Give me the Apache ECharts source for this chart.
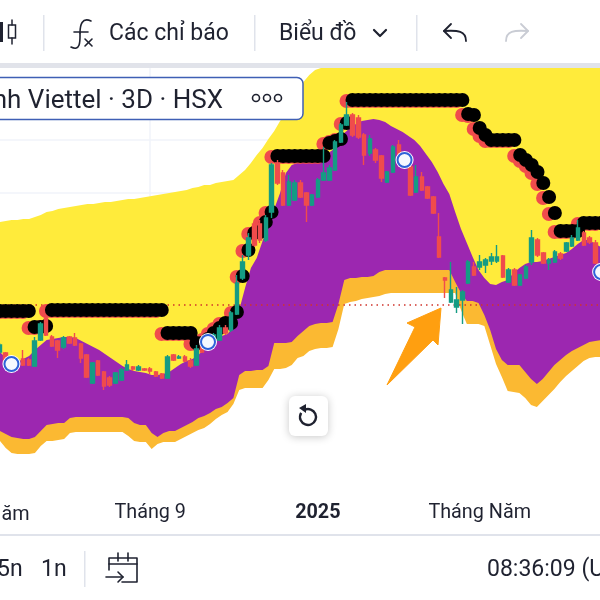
<!DOCTYPE html>
<html>
<head>
<meta charset="utf-8">
<title>Viettel 3D</title>
<style>
	html, body { margin: 0; padding: 0; background: #fff; }
	#chart { width: 600px; height: 600px; }
</style>
<script src="https://cdn.jsdelivr.net/npm/echarts@6/dist/echarts.min.js"></script>
</head>
<body>
<div id="chart"></div>
<script>
// all levels are in chart units, axis runs 0-467
var yellowTop = [313,314,315,315,316,316,318,320,323,324,
	326,327,328,329,330,331,331,332,333,333,
	334,335,336,336,337,338,339,340,341,342,
	343,344,345,347,348,350,350,352,353,354,
	355,360,365,372,380,387,396,404,414,421,
	432,443,453,460,465,467,467,467,467,467,
	467,467,467,467,467,467,467,467,467,467,
	467,467,467,467,467,467,467,467,467,467,
	467,467,467,467,467,467,467,467,467,467,
	467,467,467,467,467,467,467,467,467,467,
	467,467,467,467];
var purpleTop = [183,177,174,173,176,179,185,190,195,196,
	197,198,198,197,194,191,188,185,181,177,
	173,169,166,164,163,162,160,160,161,163,
	167,171,174,176,180,186,191,195,199,201,
	208,225,247,267,277,294,310,326,342,362,
	370,372,373,375,377,379,381,385,394,402,
	407,411,414,415,416,415,413,409,406,403,
	399,395,389,381,373,363,351,341,323,306,
	292,278,265,257,251,250,253,255,262,267,
	271,273,273,274,276,278,280,282,286,291,
	295,295,291,288];
var purpleBottom = [104,101,98,97,96,96,98,104,110,111,
	112,112,117,118,118,118,118,118,118,118,
	118,118,117,112,110,110,102,98,102,104,
	104,107,110,113,117,119,122,126,128,132,
	137,160,164,164,165,165,169,192,192,192,
	193,199,204,209,211,212,212,213,231,255,
	257,257,258,258,259,263,265,265,265,265,
	265,265,265,265,265,265,265,265,253,242,
	234,234,232,220,205,186,175,170,170,170,
	163,156,151,156,163,170,175,180,184,187,
	190,193,194,195];
var orangeBottom = [94,87,82,81,81,81,82,89,94,94,
	95,96,102,103,103,103,103,103,103,103,
	103,103,99,94,93,93,86,91,93,93,
	93,96,99,102,105,107,111,116,120,123,
	131,145,147,147,147,147,155,166,166,167,
	170,177,179,184,186,187,187,188,206,231,
	233,234,236,237,238,239,241,242,242,242,
	242,242,242,242,242,242,242,242,242,225,
	211,211,211,209,190,171,158,144,143,142,
	137,130,128,134,140,146,153,159,164,169,
	174,177,178,178];
// [open, close, low, high]
var candles = [
	[183,190,181,192],[182,173,170,183],[177,174,172,178],[173,175,171,176],[176,170,169,185],
	[175,170,169,177],[169,194,168,198],[195,211,194,213],[217,200,199,220],[198,189,188,200],
	[194,185,177,195],[188,197,186,199],[198,192,191,199],[197,190,189,202],[191,177,172,192],
	[180,158,157,181],[152,172,151,173],[174,160,159,175],[163,149,145,164],[157,150,148,159],
	[152,162,151,163],[155,165,154,167],[165,170,164,175],[168,166,164,169],[165,168,164,170],
	[166,165,164,167],[166,164,161,168],[163,159,158,164],[161,157,156,162],[157,178,156,180],
	[180,175,174,181],[177,178,176,180],[178,174,173,180],[174,169,167,177],[170,186,169,190],
	[188,183,182,189],[192,196,190,198],[193,200,192,202],[195,207,194,210],[207,202,200,210],
	[205,222,203,224],[221,252,220,260],[257,273,255,280],[280,297,275,302],[311,290,288,313],
	[311,295,292,315],[295,317,293,320],[323,370,317,372],[372,352,350,375],[362,330,329,365],
	[330,353,329,360],[335,352,334,355],[352,338,337,355],[342,330,313,343],[330,340,329,341],
	[338,355,337,357],[355,362,354,388],[355,367,354,370],[365,393,364,395],[393,410,392,412],
	[410,420,409,433],[420,400,398,422],[417,398,396,420],[400,380,370,402],[382,396,379,400],
	[385,375,372,387],[379,357,353,380],[353,363,352,364],[363,388,362,390],[390,380,372,395],
	[380,370,366,382],[368,340,339,370],[343,358,342,370],[358,345,344,363],[348,337,336,349],
	[338,322,321,339],[298,278,277,322],[257,255,237,258],[233,245,232,273],[228,235,222,248],
	[235,243,211,245],[252,273,251,275],[268,260,259,273],[268,273,265,280],[270,275,262,277],
	[274,278,270,282],[274,278,272,290],[279,258,257,280],[253,265,252,267],[265,250,249,267],
	[250,260,249,261],[257,268,256,270],[273,297,270,305],[295,280,278,297],[282,272,271,283],
	[272,275,265,277],[273,283,272,285],[281,277,275,283],[284,292,283,293],[289,297,288,300],
	[295,307,294,315],[302,290,289,304],[297,293,291,299],[292,272,271,295]
];
var stopLevels = [224,224,224,224,224,224,208,208,209,225,
	225,225,225,225,225,225,225,225,225,225,
	225,225,225,225,225,225,225,225,225,202,
	202,202,202,202,192,192,196,202,207,212,
	212,223,259,285,302,303,313,323,379,379,
	379,379,379,379,379,379,379,392,394,396,
	412,435,435,435,435,435,435,435,435,435,
	435,435,435,435,435,435,435,435,435,435,
	435,421,420,407,400,395,395,395,395,395,
	380,375,370,363,352,338,322,304,304,304,
	304,312,312,312,312];
var signalIndex = [2,36,70,104];
var signalLevel = [171,193,375,263];
var currentPrice = 230;
var gridLevels = [342,395];
var gridSession = 26;
var tickIndex = [26,55,83];
var tickNames = ['Tháng 9','2025','Tháng Năm'];

var RED = '#f04c4c', TEAL = '#159c84', INK = '#1f2230', FONT = 'Roboto';

var sessions = [], bandSessions = [];
for (var i = 0; i < stopLevels.length; i++) { sessions.push(String(i)); }
for (var i = 0; i < yellowTop.length; i++) { bandSessions.push(String(i)); }

function band(name, values, color, z) {
	return {
		name: name, type: 'line', xAxisIndex: 1, data: values, z: z,
		symbol: 'none', silent: true, animation: false,
		lineStyle: { width: 0 },
		areaStyle: { color: color, opacity: 1, origin: 'start' }
	};
}
function dots(name, color, offset, z) {
	return {
		name: name, type: 'scatter', data: stopLevels, z: z, silent: true,
		symbolSize: 14, symbolOffset: offset,
		itemStyle: { color: color, opacity: 1 }
	};
}
function text(str, x, y, size, color, align) {
	return {
		type: 'text', z: 60, silent: true, x: x, y: y,
		style: { text: str, fontFamily: FONT, fontSize: size, fill: color, textAlign: align || 'left', textVerticalAlign: 'middle' }
	};
}
function line(points, color, width) {
	return {
		type: 'polyline', z: 60, silent: true, shape: { points: points },
		style: { stroke: color, lineWidth: width || 2, fill: null, lineCap: 'round', lineJoin: 'round' }
	};
}
function curve(x1, y1, cx1, cy1, cx2, cy2, x2, y2, color, width) {
	return {
		type: 'bezierCurve', z: 60, silent: true,
		shape: { x1: x1, y1: y1, cpx1: cx1, cpy1: cy1, cpx2: cx2, cpy2: cy2, x2: x2, y2: y2 },
		style: { stroke: color, lineWidth: width || 2, fill: null, lineCap: 'round' }
	};
}
function box(x, y, w, h, fill, r) {
	return { type: 'rect', z: 59, silent: true, shape: { x: x, y: y, width: w, height: h, r: r || 0 }, style: { fill: fill } };
}

var chrome = [
	// top toolbar
	box(0, 0, 600, 63, '#fff'),
	box(0, 63, 600, 5, '#e1e3ea'),
	box(43, 15, 1.5, 36, '#e0e3eb'), box(254, 15, 1.5, 36, '#e0e3eb'), box(416, 15, 1.5, 36, '#e0e3eb'),
	box(0, 22, 3, 20, INK),
	line([[12, 20], [12, 25]], INK, 1.5), line([[12, 38], [12, 44]], INK, 1.5),
	{ type: 'rect', z: 60, silent: true, shape: { x: 8.5, y: 25, width: 7, height: 13 }, style: { fill: null, stroke: INK, lineWidth: 1.5 } },
	curve(91, 21, 82, 17, 80, 25, 80, 33, INK, 1.6),
	curve(80, 33, 80, 40, 81, 52, 71, 47, INK, 1.6),
	line([[74, 32], [88, 32]], INK, 1.6),
	line([[85, 39], [92, 46]], INK, 1.6), line([[92, 39], [85, 46]], INK, 1.6),
	text('Các chỉ báo', 109, 34, 23, INK),
	text('Biểu đồ', 279, 34, 23, INK),
	line([[374, 30], [380, 36], [386, 30]], INK, 2.2),
	line([[451, 24], [444, 31], [451, 38]], INK, 1.8),
	curve(444, 31, 458, 30, 466, 31, 466, 41, INK, 1.8),
	line([[521, 24], [528, 31], [521, 38]], '#c9ccd4', 1.8),
	curve(528, 31, 514, 30, 506, 31, 506, 41, '#c9ccd4', 1.8),
	// clipped label on the left of the time axis
	text('Tháng Năm', -73, 515, 19.8, INK),
	// legend tag
	{ type: 'rect', z: 59, silent: true, shape: { x: -12, y: 77.5, width: 315, height: 42, r: 6 }, style: { fill: '#fff', stroke: '#3f5fb5', lineWidth: 1.5 } },
	text('nh Viettel · 3D · HSX', 223, 101, 26, INK, 'right'),
	{ type: 'circle', z: 60, silent: true, shape: { cx: 256, cy: 98, r: 3.5 }, style: { fill: null, stroke: INK, lineWidth: 1.6 } },
	{ type: 'circle', z: 60, silent: true, shape: { cx: 267, cy: 98, r: 3.5 }, style: { fill: null, stroke: INK, lineWidth: 1.6 } },
	{ type: 'circle', z: 60, silent: true, shape: { cx: 278, cy: 98, r: 3.5 }, style: { fill: null, stroke: INK, lineWidth: 1.6 } },
	// hand drawn arrow
	{
		type: 'polygon', z: 58, silent: true,
		shape: { points: [[441, 308], [407, 323], [415, 327], [387, 385], [433, 340], [438, 345]] },
		style: { fill: '#ff9f10', stroke: '#ff9f10', lineWidth: 1, lineJoin: 'round' }
	},
	// reset button
	{
		type: 'rect', z: 59, silent: true, shape: { x: 289, y: 396, width: 39, height: 40, r: 6 },
		style: { fill: '#fff', shadowBlur: 8, shadowColor: 'rgba(0,0,0,0.22)', shadowOffsetY: 1 }
	},
	{
		type: 'arc', z: 60, silent: true, shape: { cx: 308, cy: 417, r: 8, startAngle: -2.0, endAngle: -2.6, clockwise: true },
		style: { stroke: INK, lineWidth: 2.4, fill: null }
	},
	{ type: 'polygon', z: 60, silent: true, shape: { points: [[306, 404], [306, 413], [299, 408]] }, style: { fill: INK } },
	// bottom bar
	box(0, 536, 600, 64, '#fff'),
	text('5n', -3, 570, 23, INK),
	text('1n', 41, 570, 23, INK),
	box(84, 551, 1.5, 36, '#e0e3eb'),
	line([[109, 570], [109, 558], [137, 558], [137, 582], [122, 582]], INK, 1.6),
	line([[109, 564], [137, 564]], INK, 1.6),
	line([[118, 553], [118, 561]], INK, 1.6), line([[128, 553], [128, 561]], INK, 1.6),
	line([[106, 577], [123, 577]], INK, 1.6), line([[118, 572], [123, 577], [118, 582]], INK, 1.6),
	text('08:36:09 (UTC+7)', 487, 570, 23, INK)
];

var myChart = echarts.init(document.getElementById('chart'), null, { renderer: 'canvas' });
myChart.setOption({
	animation: false,
	backgroundColor: '#fff',
	textStyle: { fontFamily: FONT },
	grid: { left: -3, top: 68, width: 607, height: 467, containLabel: false, outerBoundsMode: 'none' },
	xAxis: [{
		type: 'category', data: sessions, boundaryGap: true, z: 20,
		axisLine: { show: true, onZero: false, lineStyle: { color: '#e0e3eb', width: 2 } },
		axisTick: { show: false },
		splitLine: { show: false },
		axisLabel: {
			inside: true, margin: 22, color: INK, fontFamily: FONT, fontSize: 19.8, verticalAlign: 'middle',
			interval: function (index) { return tickIndex.indexOf(index) >= 0; },
			formatter: function (value, index) {
				var name = tickNames[tickIndex.indexOf(index)];
				return name === '2025' ? '{bold|' + name + '}' : name;
			},
			rich: { bold: { fontFamily: FONT, fontSize: 19.8, fontWeight: 'bold', color: INK } }
		}
	}, {
		// the bands were read on their own, slightly wider step
		type: 'category', data: bandSessions, boundaryGap: true, show: false
	}],
	yAxis: { type: 'value', min: 0, max: 467, show: false, splitLine: { show: false } },
	series: [
		{
			name: 'grid', type: 'line', data: [], z: 1, silent: true, symbol: 'none',
			markLine: {
				z: 1, silent: true, symbol: 'none', label: { show: false }, animation: false,
				lineStyle: { color: '#f0f3fa', width: 1.5, type: 'solid' },
				data: gridLevels.map(function (v) { return { yAxis: v }; }).concat([{ xAxis: gridSession }])
			}
		},
		band('yellow', yellowTop, '#ffeb3b', 2),
		band('purple', purpleTop, '#9c27b0', 3),
		band('orange', purpleBottom, '#fbb932', 4),
		band('white', orangeBottom, '#ffffff', 5),
		{
			name: 'price', type: 'line', data: [], z: 6, silent: true, symbol: 'none',
			markLine: {
				z: 6, silent: true, symbol: 'none', label: { show: false }, animation: false,
				lineStyle: { color: '#d0342c', width: 1.5, type: [1.5, 4] },
				data: [{ yAxis: currentPrice }]
			}
		},
		dots('stop shadow', RED, [-6, 1], 7),
		dots('stop', '#000000', [0, 0], 8),
		{
			name: 'candles', type: 'candlestick', data: candles, z: 9, silent: true, barWidth: 4,
			itemStyle: { color: TEAL, color0: RED, borderColor: TEAL, borderColor0: RED, borderWidth: 1.4 }
		},
		{
			name: 'signal halo', type: 'scatter', z: 10, silent: true, symbolSize: 18,
			data: signalIndex.map(function (x, k) { return [x, signalLevel[k]]; }),
			itemStyle: { color: '#ffffff', opacity: 1 }
		},
		{
			name: 'signal', type: 'scatter', z: 11, silent: true, symbolSize: 14,
			data: signalIndex.map(function (x, k) { return [x, signalLevel[k]]; }),
			itemStyle: { color: '#f6f9ff', borderColor: '#2e62d9', borderWidth: 2, opacity: 1 }
		}
	],
	graphic: { elements: chrome }
});
</script>
</body>
</html>
